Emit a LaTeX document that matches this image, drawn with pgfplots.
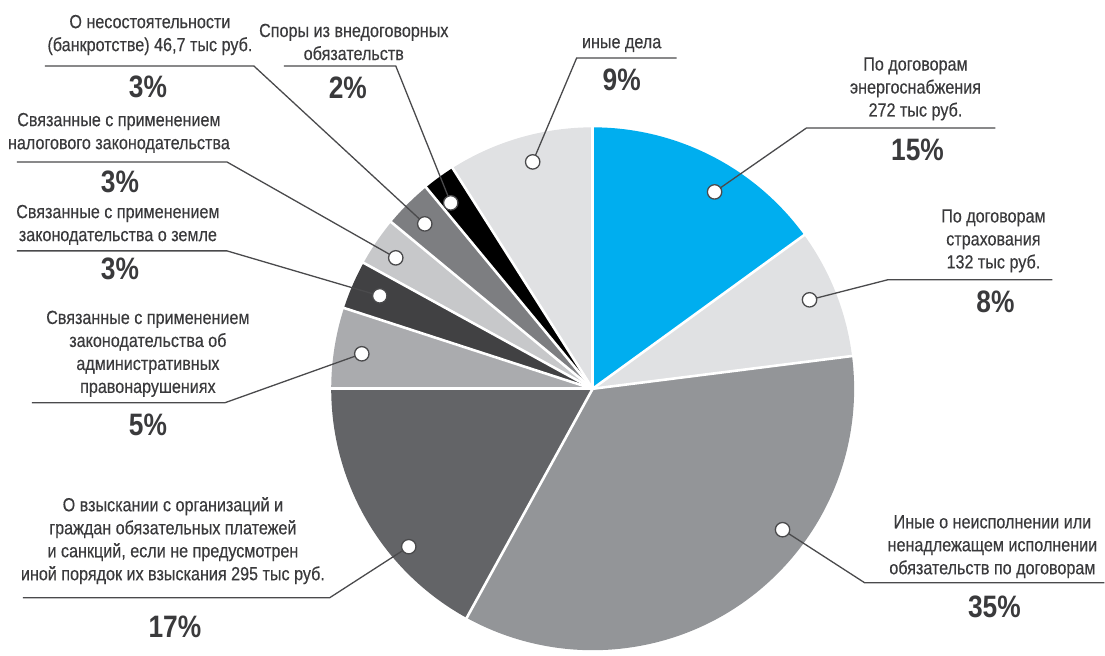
\documentclass[border=0pt]{standalone}
\usepackage{pgfplots}
\pgfplotsset{compat=1.18}
\usepackage{fontspec}
\setmainfont{Liberation Sans}[FakeStretch=0.85]
\newfontfamily\lbl{Liberation Sans}[FakeStretch=0.85,FakeBold=0.35]
\definecolor{cBlue}{HTML}{00AEEF}
\definecolor{cLight}{HTML}{E0E1E3}
\definecolor{cMid}{HTML}{939598}
\definecolor{cDark}{HTML}{636467}
\definecolor{cAdm}{HTML}{AAABAE}
\definecolor{cLand}{HTML}{414143}
\definecolor{cTax}{HTML}{C7C8CA}
\definecolor{cBank}{HTML}{7D7E81}
\definecolor{cBlack}{HTML}{000000}
\definecolor{txt}{HTML}{3A3A3C}
\definecolor{lead}{HTML}{4A4A4C}
\begin{document}
\begin{tikzpicture}
\begin{axis}[width=552.5pt,height=324.5pt,scale only axis,
  xmin=0,xmax=1105,ymin=0,ymax=649,y dir=reverse,
  hide axis,clip=false]
\path (axis cs:0,0) rectangle (axis cs:1105,649);
\pgfplotsextra{
  \xdef\curang{90}
  \foreach \v/\c in {15/cBlue,8/cLight,35/cMid,17/cDark,5/cAdm,3/cLand,3/cTax,3/cBank,2/cBlack,9/cLight}{
    \pgfmathsetmacro\endang{\curang-3.6*\v}
    \fill[\c] (axis cs:593,389) -- +(\curang:130.8pt) arc[start angle=\curang,end angle=\endang,radius=130.8pt] -- cycle;
    \xdef\curang{\endang}
  }
  \xdef\curang{90}
  \foreach \v in {15,8,35,17,5,3,3,3,2,9}{
    \draw[white,line width=1.3pt] (axis cs:593,389) -- +(\curang:131.3pt);
    \pgfmathsetmacro\endang{\curang-3.6*\v}
    \xdef\curang{\endang}
  }
  \begin{scope}[lead,line width=0.65pt]
  \draw (axis cs:45,66) -- (axis cs:254,66) -- (axis cs:425,224);
  \draw (axis cs:284,66) -- (axis cs:396,66) -- (axis cs:451,203);
  \draw (axis cs:677,58) -- (axis cs:577,58) -- (axis cs:533,162);
  \draw (axis cs:996,128) -- (axis cs:807,128) -- (axis cs:715,192);
  \draw (axis cs:1053,280) -- (axis cs:888,280) -- (axis cs:810,300);
  \draw (axis cs:1105,583) -- (axis cs:865,583) -- (axis cs:783,530);
  \draw (axis cs:23,598) -- (axis cs:330,598) -- (axis cs:409,547);
  \draw (axis cs:32,403) -- (axis cs:225,403) -- (axis cs:362,354);
  \draw (axis cs:17,251) -- (axis cs:227,251) -- (axis cs:380,296);
  \draw (axis cs:17,162) -- (axis cs:227,162) -- (axis cs:396,258);
  \end{scope}
  \foreach \px/\py in {425/224,451/203,533/162,715/192,810/300,783/530,409/547,362/354,380/296,396/258}{
    \filldraw[fill=white,draw=lead,line width=0.65pt] (axis cs:\px,\py) circle[radius=3.6pt];
  }
}
% labels
\begin{scope}[every node/.style={txt,align=center,inner sep=0pt,font=\lbl\fontsize{9.5}{11.5}\selectfont}]
\node at (axis cs:150,35) {О несостоятельности\\(банкротстве) 46,7 тыс руб.};
\node at (axis cs:354,42) {Споры из внедоговорных\\обязательств};
\node at (axis cs:622,45) {иные дела};
\node at (axis cs:916,89) {По договорам\\энергоснабжения\\272 тыс руб.};
\node at (axis cs:994,241) {По договорам\\страхования\\132 тыс руб.};
\node at (axis cs:993,547) {Иные о неисполнении или\\ненадлежащем исполнении\\обязательств по договорам};
\node at (axis cs:173,541) {О взыскании с организаций и\\граждан обязательных платежей\\и санкций, если не предусмотрен\\иной порядок их взыскания 295 тыс руб.};
\node at (axis cs:148,354) {Связанные с применением\\законодательства об\\административных\\правонарушениях};
\node at (axis cs:118,225) {Связанные с применением\\законодательства о земле};
\node at (axis cs:119,133) {Связанные с применением\\налогового законодательства};
\end{scope}
\begin{scope}[every node/.style={txt,inner sep=0pt,font=\fontsize{15.5}{18}\selectfont\bfseries}]
\node at (axis cs:148,87) {3\%};
\node at (axis cs:348,88) {2\%};
\node at (axis cs:622,80) {9\%};
\node at (axis cs:918,150) {15\%};
\node at (axis cs:996,302) {8\%};
\node at (axis cs:995,607) {35\%};
\node at (axis cs:175,627) {17\%};
\node at (axis cs:148,425) {5\%};
\node at (axis cs:120,269) {3\%};
\node at (axis cs:120,182) {3\%};
\end{scope}
\end{axis}
\end{tikzpicture}
\end{document}
